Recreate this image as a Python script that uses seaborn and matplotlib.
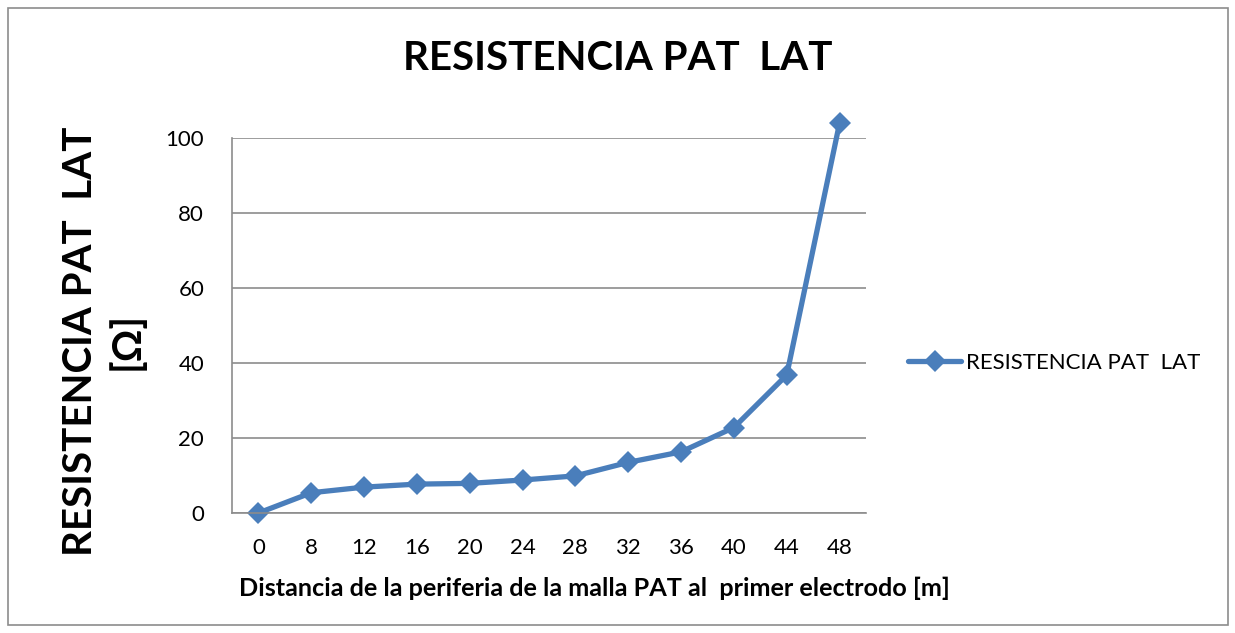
import matplotlib
matplotlib.use("Agg")
import matplotlib.pyplot as plt
import seaborn as sns
import pandas as pd
from matplotlib.lines import Line2D
from matplotlib.patches import Rectangle

distances = ["0", "8", "12", "16", "20", "24", "28", "32", "36", "40", "44", "48"]
resistance = [0.0, 5.4, 6.9, 7.7, 7.9, 8.8, 9.9, 13.5, 16.3, 22.8, 36.8, 104.0]
y_ticks = [0, 20, 40, 60, 80, 100]
series_name = "RESISTENCIA PAT  LAT"

sns.set_theme(style="white")
FONT = ["Lato", "Open Sans", "DejaVu Sans"]
plt.rcParams["font.family"] = FONT
plt.rcParams["text.color"] = "#000000"

df = pd.DataFrame({"dist": distances, "res": resistance})

fig = plt.figure(figsize=(12.35, 6.33), dpi=100)
ax = fig.add_axes([232/1235, 1-513/633, (866-232)/1235, (513-138)/633])

color = "#4A7EBB"
sns.lineplot(data=df, x="dist", y="res", sort=False, ax=ax, color=color,
             linewidth=3.8, marker="D", markersize=11, markeredgewidth=0,
             clip_on=False)

ax.set_xlim(-0.5, len(distances) - 0.5)
ax.set_ylim(0, 100)
ax.set_yticks(y_ticks)
ax.set_yticklabels([str(v) for v in y_ticks])
ax.set_xticks(range(len(distances)))
ax.set_xticklabels(distances)
ax.tick_params(axis="both", labelsize=16, colors="#000000", length=0)
ax.tick_params(axis="x", pad=18)
ax.tick_params(axis="y", pad=20)
ax.yaxis.grid(True, color="#8c8c8c", linewidth=1.2)
ax.set_axisbelow(True)
for s in ["top", "right"]:
    ax.spines[s].set_visible(False)
for s in ["left", "bottom"]:
    ax.spines[s].set_color("#8c8c8c")
    ax.spines[s].set_linewidth(1.2)

ax.set_xlabel("")
ax.set_ylabel("")
fig.text(594/1235, 1-588/633,
         "Distancia de la periferia de la malla PAT al  primer electrodo [m]",
         ha="center", va="center", fontsize=18.2, fontweight="bold",
         color="#000000")
fig.text(104/1235, 1-341/633, series_name + "\n[Ω]", ha="center", va="center",
         rotation=90, fontsize=29, fontweight="bold", linespacing=1.3,
         multialignment="center", color="#000000")

fig.text(618/1235, 1-58/633, series_name, ha="center", va="center",
         fontsize=29, fontweight="bold", color="#000000")

handle = Line2D([], [], color=color, linewidth=3.8, marker="D", markersize=11,
                markeredgewidth=0)
fig.legend([handle], [series_name], loc="center left",
           bbox_to_anchor=(888/1235, 1-363/633), frameon=False, fontsize=16,
           handlelength=2.4, handletextpad=0.2, labelcolor="#000000")

fig.patches.append(Rectangle((8/1235, 8/633), 1220/1235, 617/633,
                             transform=fig.transFigure, fill=False,
                             edgecolor="#8c8c8c", linewidth=1.2))

fig.savefig("out.png", dpi=100)
